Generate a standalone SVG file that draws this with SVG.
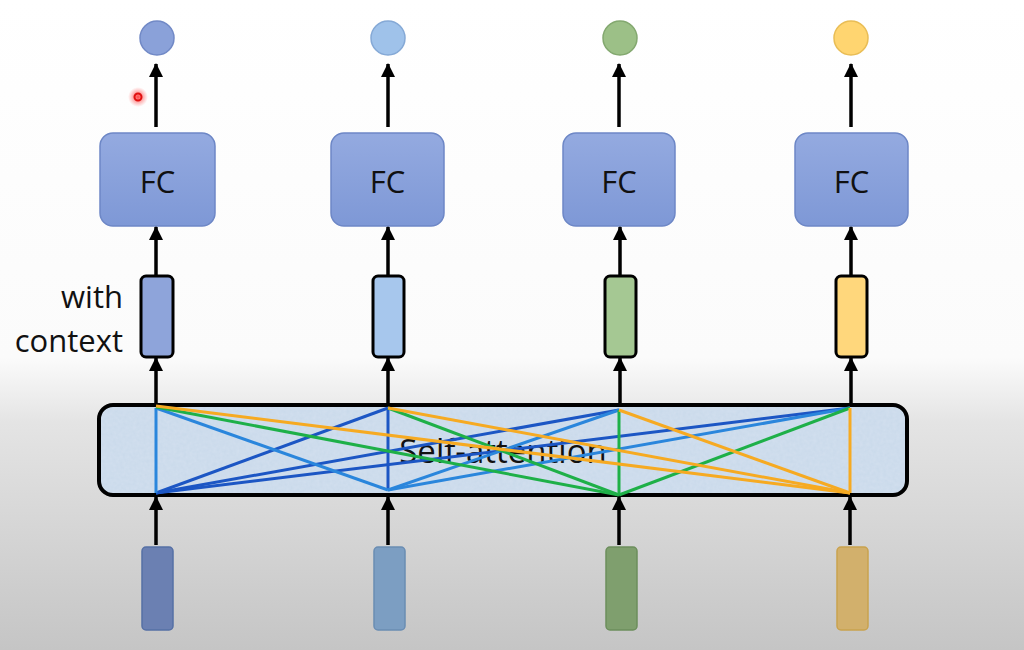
<svg xmlns="http://www.w3.org/2000/svg" width="1024" height="650" viewBox="0 0 1024 650">
<defs>
  <linearGradient id="bg" x1="0" y1="0" x2="0" y2="1">
    <stop offset="0" stop-color="#ffffff"/>
    <stop offset="0.55" stop-color="#fbfbfb"/>
    <stop offset="0.65" stop-color="#e4e4e4"/>
    <stop offset="1" stop-color="#c5c5c5"/>
  </linearGradient>
  <linearGradient id="fcg" x1="0" y1="0" x2="0" y2="1">
    <stop offset="0" stop-color="#94aae0"/>
    <stop offset="1" stop-color="#7e98d6"/>
  </linearGradient>
  <radialGradient id="glow">
    <stop offset="0" stop-color="#ff3030" stop-opacity="0.9"/>
    <stop offset="1" stop-color="#ff6060" stop-opacity="0"/>
  </radialGradient>
  <filter id="tex" x="0" y="0" width="1" height="1">
    <feTurbulence type="fractalNoise" baseFrequency="0.3" numOctaves="2" seed="3" result="n"/>
    <feColorMatrix in="n" type="matrix" values="0 0 0 0 0.72  0 0 0 0 0.80  0 0 0 0 0.90  0 0 0 0.45 0" result="c"/>
    <feComposite in="c" in2="SourceGraphic" operator="in" result="t"/>
    <feMerge><feMergeNode in="SourceGraphic"/><feMergeNode in="t"/></feMerge>
  </filter>
  <marker id="ah" markerUnits="userSpaceOnUse" markerWidth="14" markerHeight="14" refX="13" refY="7" orient="auto">
    <path d="M0,0 L14,7 L0,14 z" fill="#000"/>
  </marker>
</defs>
<style>
  .lbl { font-family: "Open Sans", "Noto Sans", sans-serif; fill: #111; }
  .fc { fill: url(#fcg); stroke: #6d87c6; stroke-width: 1.5; }
  .vec { stroke: #000; stroke-width: 3; }
  .inp { stroke-width: 1.5; }
  .arr { stroke: #000; stroke-width: 3.5; fill: none; marker-end: url(#ah); }
  .att line { stroke-width: 3; }
  .db { stroke: #1c56c4; }
  .lb { stroke: #2a86dc; }
  .gr { stroke: #1eb048; }
  .or { stroke: #f6aa22; }
</style>
<rect x="0" y="0" width="1024" height="650" fill="url(#bg)"/>

<g id="outputs">
  <circle id="out1" cx="157" cy="38" r="17" fill="#8aa1d9" stroke="#7189c6" stroke-width="1.5"/>
  <circle id="out2" cx="388" cy="38" r="17" fill="#9fc2ea" stroke="#85a9d6" stroke-width="1.5"/>
  <circle id="out3" cx="620" cy="38" r="17" fill="#9cc087" stroke="#83a86f" stroke-width="1.5"/>
  <circle id="out4" cx="851" cy="38" r="17" fill="#ffd570" stroke="#e9bd55" stroke-width="1.5"/>
</g>

<g id="fc1"><rect class="fc" x="100" y="133" width="115" height="93" rx="13"/><text class="lbl" x="157.5" y="193" font-size="31" text-anchor="middle">FC</text></g>
<g id="fc2"><rect class="fc" x="331" y="133" width="113" height="93" rx="13"/><text class="lbl" x="387.5" y="193" font-size="31" text-anchor="middle">FC</text></g>
<g id="fc3"><rect class="fc" x="563" y="133" width="112" height="93" rx="13"/><text class="lbl" x="619" y="193" font-size="31" text-anchor="middle">FC</text></g>
<g id="fc4"><rect class="fc" x="795" y="133" width="113" height="93" rx="13"/><text class="lbl" x="851.5" y="193" font-size="31" text-anchor="middle">FC</text></g>

<g id="ctx1"><rect class="vec" x="141" y="276" width="32" height="81" rx="5" fill="#8ea4da"/></g>
<g id="ctx2"><rect class="vec" x="373" y="276" width="31" height="81" rx="5" fill="#a7c7ed"/></g>
<g id="ctx3"><rect class="vec" x="605" y="276" width="31" height="81" rx="5" fill="#a5c893"/></g>
<g id="ctx4"><rect class="vec" x="836" y="276" width="31" height="81" rx="5" fill="#ffd77c"/></g>

<g id="ctx-label">
  <text class="lbl" x="123" y="308" font-size="31" text-anchor="end">with</text>
  <text class="lbl" x="123" y="352" font-size="31" text-anchor="end">context</text>
</g>

<g id="self-attention">
  <rect x="99" y="405" width="808" height="90" rx="14" fill="#c9d9ea" filter="url(#tex)"/>
  <rect x="99" y="405" width="808" height="90" rx="14" fill="none" stroke="#000" stroke-width="4"/>
  <text class="lbl" x="503" y="463" font-size="33" text-anchor="middle" fill="#333">Self-attention</text>
  <g class="att">
    <line class="db" x1="156" y1="493" x2="388" y2="408"/>
    <line class="db" x1="156" y1="493" x2="619" y2="410"/>
    <line class="db" x1="156" y1="493" x2="850" y2="408"/>
    <line class="lb" x1="156" y1="493" x2="156" y2="408"/>
    <line class="db" x1="388" y1="490" x2="388" y2="408"/>
    <line class="lb" x1="388" y1="490" x2="156" y2="408"/>
    <line class="lb" x1="388" y1="490" x2="619" y2="410"/>
    <line class="lb" x1="388" y1="490" x2="850" y2="408"/>
    <line class="gr" x1="619" y1="495" x2="156" y2="407"/>
    <line class="gr" x1="619" y1="495" x2="388" y2="408"/>
    <line class="gr" x1="619" y1="495" x2="619" y2="410"/>
    <line class="gr" x1="619" y1="495" x2="850" y2="408"/>
    <line class="or" x1="850" y1="493" x2="156" y2="406"/>
    <line class="or" x1="850" y1="493" x2="388" y2="408"/>
    <line class="or" x1="850" y1="493" x2="619" y2="410"/>
    <line class="or" x1="850" y1="493" x2="850" y2="408"/>
  </g>
</g>

<g id="in1"><rect class="inp" x="142" y="547" width="31" height="83" rx="4" fill="#6b80b2" stroke="#5670a5"/></g>
<g id="in2"><rect class="inp" x="374" y="547" width="31" height="83" rx="4" fill="#7c9ec2" stroke="#6a8db3"/></g>
<g id="in3"><rect class="inp" x="606" y="547" width="31" height="83" rx="4" fill="#7f9f6e" stroke="#6c8e5c"/></g>
<g id="in4"><rect class="inp" x="837" y="547" width="31" height="83" rx="4" fill="#d2b06c" stroke="#c9a24e"/></g>

<g id="connectors">
  <line class="arr" x1="156" y1="127" x2="156" y2="64"/>
  <line class="arr" x1="388" y1="127" x2="388" y2="64"/>
  <line class="arr" x1="619" y1="127" x2="619" y2="64"/>
  <line class="arr" x1="851" y1="127" x2="851" y2="64"/>
  <line class="arr" x1="156" y1="276" x2="156" y2="227"/>
  <line class="arr" x1="388" y1="276" x2="388" y2="227"/>
  <line class="arr" x1="620" y1="276" x2="620" y2="227"/>
  <line class="arr" x1="851" y1="276" x2="851" y2="227"/>
  <line class="arr" x1="156" y1="404" x2="156" y2="358"/>
  <line class="arr" x1="388" y1="404" x2="388" y2="358"/>
  <line class="arr" x1="620" y1="404" x2="620" y2="358"/>
  <line class="arr" x1="851" y1="404" x2="851" y2="358"/>
  <line class="arr" x1="156" y1="545" x2="156" y2="497"/>
  <line class="arr" x1="388" y1="545" x2="388" y2="497"/>
  <line class="arr" x1="619" y1="545" x2="619" y2="497"/>
  <line class="arr" x1="850" y1="545" x2="850" y2="497"/>
</g>

<g id="pointer">
  <circle cx="138" cy="97" r="10" fill="url(#glow)"/>
  <circle cx="138" cy="97" r="3.5" fill="none" stroke="#e01010" stroke-width="2"/>
</g>
</svg>
